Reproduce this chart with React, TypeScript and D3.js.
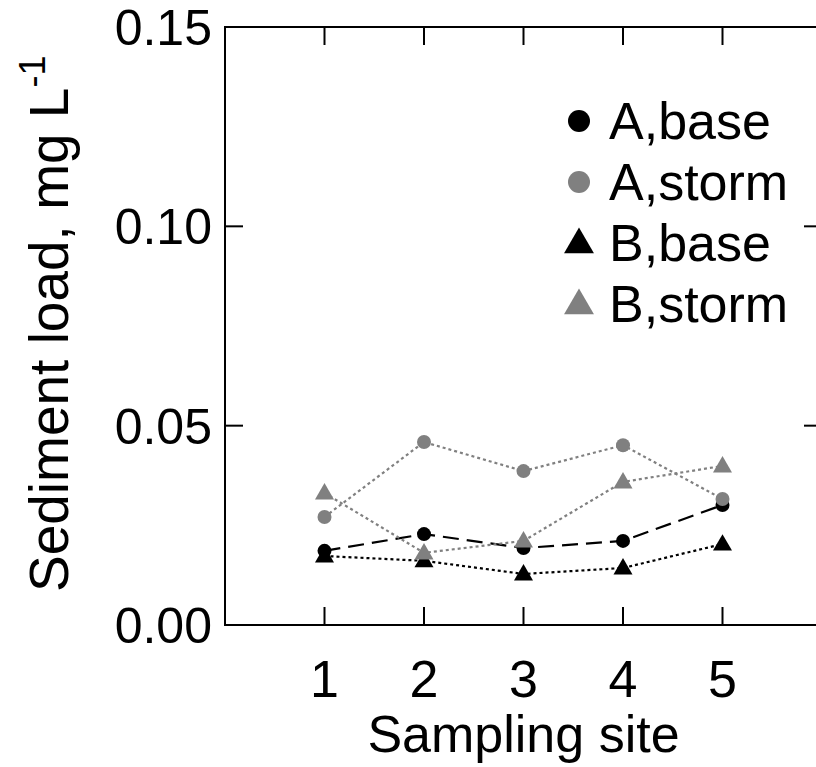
import React from "react";
import * as d3 from "d3";

const sites = [1, 2, 3, 4, 5];
const aBase = [0.0186, 0.0228, 0.0193, 0.0211, 0.0301];
const aStorm = [0.0271, 0.0459, 0.0386, 0.0451, 0.0316];
const bBase = [0.0173, 0.0161, 0.0128, 0.0143, 0.0203];
const bStorm = [0.0331, 0.0181, 0.0211, 0.0359, 0.0399];
const yTicks = [0, 0.05, 0.1, 0.15];
const yTickLabels = ["0.00", "0.05", "0.10", "0.15"];
const seriesNames = ["A,base", "A,storm", "B,base", "B,storm"];

const W = 816, H = 767;
const x = d3.scaleLinear().domain([0, 6]).range([225, 822]);
const y = d3.scaleLinear().domain([0, 0.15]).range([625, 27]);

const FONT = "'Liberation Sans', Arial, Helvetica, sans-serif";
const FS = 52;
const GRAY = "#808080";

type S = { name: string; vals: number[]; color: string; shape: "circle" | "triangle"; dash: string };
const series: S[] = [
  { name: seriesNames[0], vals: aBase, color: "#000", shape: "circle", dash: "16,8" },
  { name: seriesNames[1], vals: aStorm, color: GRAY, shape: "circle", dash: "3,3" },
  { name: seriesNames[2], vals: bBase, color: "#000", shape: "triangle", dash: "3,3" },
  { name: seriesNames[3], vals: bStorm, color: GRAY, shape: "triangle", dash: "3,3" },
];

function Marker({ shape, cx, cy, size, color }: { shape: string; cx: number; cy: number; size: number; color: string }) {
  if (shape === "circle") return <circle cx={cx} cy={cy} r={size} fill={color} />;
  const sym = d3.symbol().type(d3.symbolTriangle).size(size * size * 3.2)();
  return <path d={sym || ""} transform={`translate(${cx},${cy + size * 0.15})`} fill={color} />;
}

export default function App() {
  const line = d3.line<number>().x((_, i) => x(sites[i])).y((d) => y(d));
  const tl = 18;
  return (
    <svg width={W} height={H} style={{ position: "absolute", left: 0, top: 0, background: "#fff" }}>
      <rect x={0} y={0} width={W} height={H} fill="#fff" />
      <rect x={x(0)} y={y(0.15)} width={x(6) - x(0)} height={y(0) - y(0.15)} fill="none" stroke="#000" strokeWidth={2} />
      {sites.map((s) => (
        <g key={s}>
          <line x1={x(s)} x2={x(s)} y1={y(0)} y2={y(0) - tl} stroke="#000" strokeWidth={2} />
          <line x1={x(s)} x2={x(s)} y1={y(0.15)} y2={y(0.15) + tl} stroke="#000" strokeWidth={2} />
          <text x={x(s)} y={697} textAnchor="middle" fontFamily={FONT} fontSize={FS} fill="#000">{s}</text>
        </g>
      ))}
      {yTicks.map((t, i) => (
        <g key={t}>
          <line x1={x(0)} x2={x(0) + tl} y1={y(t)} y2={y(t)} stroke="#000" strokeWidth={2} />
          <line x1={x(6)} x2={x(6) - tl} y1={y(t)} y2={y(t)} stroke="#000" strokeWidth={2} />
          <text x={212} y={y(t) + 18} textAnchor="end" fontFamily={FONT} fontSize={50} fill="#000">{yTickLabels[i]}</text>
        </g>
      ))}
      <text x={x(3)} y={752} textAnchor="middle" fontFamily={FONT} fontSize={FS} fill="#000">Sampling site</text>
      <text transform={`translate(68,592) rotate(-90)`} textAnchor="start" fontFamily={FONT} fontSize={55} fill="#000">
        Sediment load, mg L<tspan dy={-23} fontSize={36}>-1</tspan>
      </text>
      {series.map((s) => (
        <g key={s.name}>
          <path d={line(s.vals) || ""} fill="none" stroke={s.color} strokeWidth={2.2} strokeDasharray={s.dash} />
          {s.vals.map((v, i) => (
            <Marker key={i} shape={s.shape} cx={x(sites[i])} cy={y(v)} size={7} color={s.color} />
          ))}
        </g>
      ))}
      {series.map((s, i) => {
        const cy = 121 + i * 61;
        return (
          <g key={s.name}>
            <Marker shape={s.shape} cx={579} cy={cy} size={11} color={s.color} />
            <text x={609} y={cy + 18} fontFamily={FONT} fontSize={FS} fill="#000">{s.name}</text>
          </g>
        );
      })}
    </svg>
  );
}
